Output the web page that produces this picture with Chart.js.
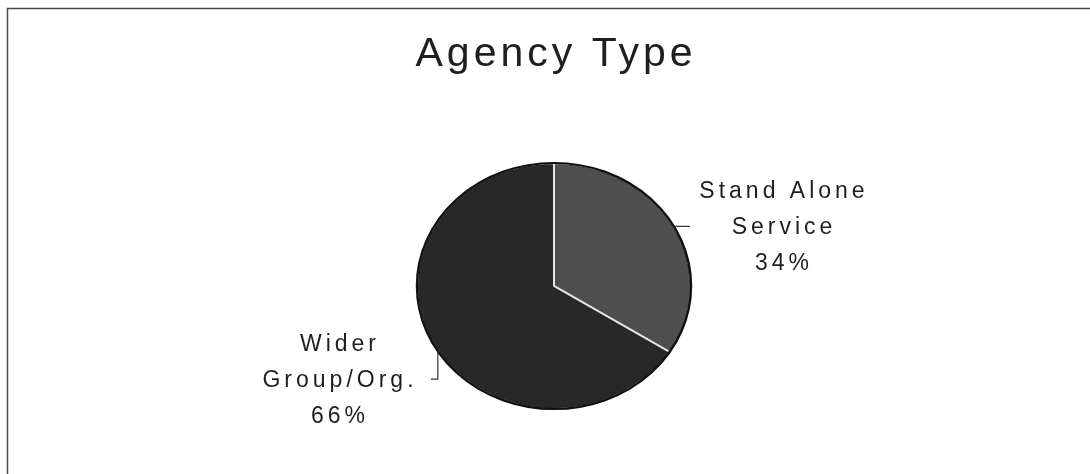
<!DOCTYPE html>
<html>
<head>
<meta charset="utf-8">
<title>Agency Type</title>
<script src="https://cdn.jsdelivr.net/npm/chart.js@4.4.0/dist/chart.umd.min.js"></script>
<style>
    html, body { margin: 0; padding: 0; background: #fff; }
    #wrap { width: 1090px; height: 474px; position: relative; }
</style>
</head>
<body>
<div id="wrap"><canvas id="chart"></canvas></div>
<script>
// chart data
const chartTitle = "Agency Type"
const categories = [["Stand Alone", "Service"], ["Wider", "Group/Org."]]
const shares = [34, 66]
const sliceColors = ["#4f4f4f", "#282828"]

// where each label sits relative to the pie centre, and where its leader line goes
const labelStyles = [
    { dx: 228, dy: -88, attach: -29, leader: [[16, 0]] },
    { dx: -216, dy: 65, attach: 148, leader: [[0, 28], [-7, 28]] },
]

const squash = 123 / 137 // the scanned pie is a bit wider than tall
const textColor = "#1f1f1f"

const piePlugin = {
    id: "pieDecor",
    beforeDraw(chart) {
        const ctx = chart.ctx
        // frame of the original chart box (only top and left are in view)
        ctx.save()
        ctx.strokeStyle = "#4a4a4a"
        ctx.lineWidth = 1.5
        ctx.strokeRect(7.5, 8.5, 1200, 600)
        // title
        ctx.fillStyle = textColor
        ctx.font = "41px Arial, 'Liberation Sans', sans-serif"
        ctx.letterSpacing = "4px"
        ctx.textAlign = "center"
        ctx.textBaseline = "alphabetic"
        const arc = chart.getDatasetMeta(0).data[0]
        ctx.fillText(chartTitle, arc.x + 2, 66)
        ctx.restore()
    },
    beforeDatasetsDraw(chart) {
        const ctx = chart.ctx
        const arc = chart.getDatasetMeta(0).data[0]
        ctx.save()
        ctx.translate(arc.x, arc.y)
        ctx.scale(1, squash)
        ctx.translate(-arc.x, -arc.y)
    },
    afterDatasetsDraw(chart) {
        const ctx = chart.ctx
        const arc = chart.getDatasetMeta(0).data[0]
        ctx.beginPath()
        ctx.arc(arc.x, arc.y, arc.outerRadius, 0, Math.PI * 2)
        ctx.strokeStyle = "#111"
        ctx.lineWidth = 2.5
        ctx.stroke()
        ctx.restore()
    },
    afterDraw(chart) {
        const ctx = chart.ctx
        const meta = chart.getDatasetMeta(0)
        ctx.save()
        ctx.font = "23px Arial, 'Liberation Sans', sans-serif"
        ctx.letterSpacing = "4px"
        ctx.textAlign = "center"
        ctx.textBaseline = "alphabetic"
        meta.data.forEach((arc, i) => {
            const st = labelStyles[i]
            const a = st.attach * Math.PI / 180
            let px = arc.x + arc.outerRadius * Math.cos(a)
            let py = arc.y + arc.outerRadius * squash * Math.sin(a)
            ctx.beginPath()
            ctx.moveTo(px, py)
            st.leader.forEach(([lx, ly]) => ctx.lineTo(px + lx, py + ly))
            ctx.strokeStyle = "#333"
            ctx.lineWidth = 1.2
            ctx.stroke()

            const lines = [...categories[i], shares[i] + "%"]
            ctx.fillStyle = textColor
            lines.forEach((t, k) => {
                ctx.fillText(t, arc.x + st.dx + 2, arc.y + st.dy + k * 36)
            })
        })
        ctx.restore()
    },
}

new Chart(document.getElementById("chart"), {
    type: "pie",
    data: {
        labels: categories.map(c => c.join(" ")),
        datasets: [{
            data: shares,
            backgroundColor: sliceColors,
            borderColor: "#e6e6e6",
            borderWidth: 2,
            radius: 137,
        }],
    },
    options: {
        responsive: true,
        maintainAspectRatio: false,
        animation: false,
        layout: { padding: { left: 417, right: 399, top: 149, bottom: 51 } },
        plugins: {
            legend: { display: false },
            tooltip: { enabled: false },
            title: { display: false },
        },
    },
    plugins: [piePlugin],
})
</script>
</body>
</html>
